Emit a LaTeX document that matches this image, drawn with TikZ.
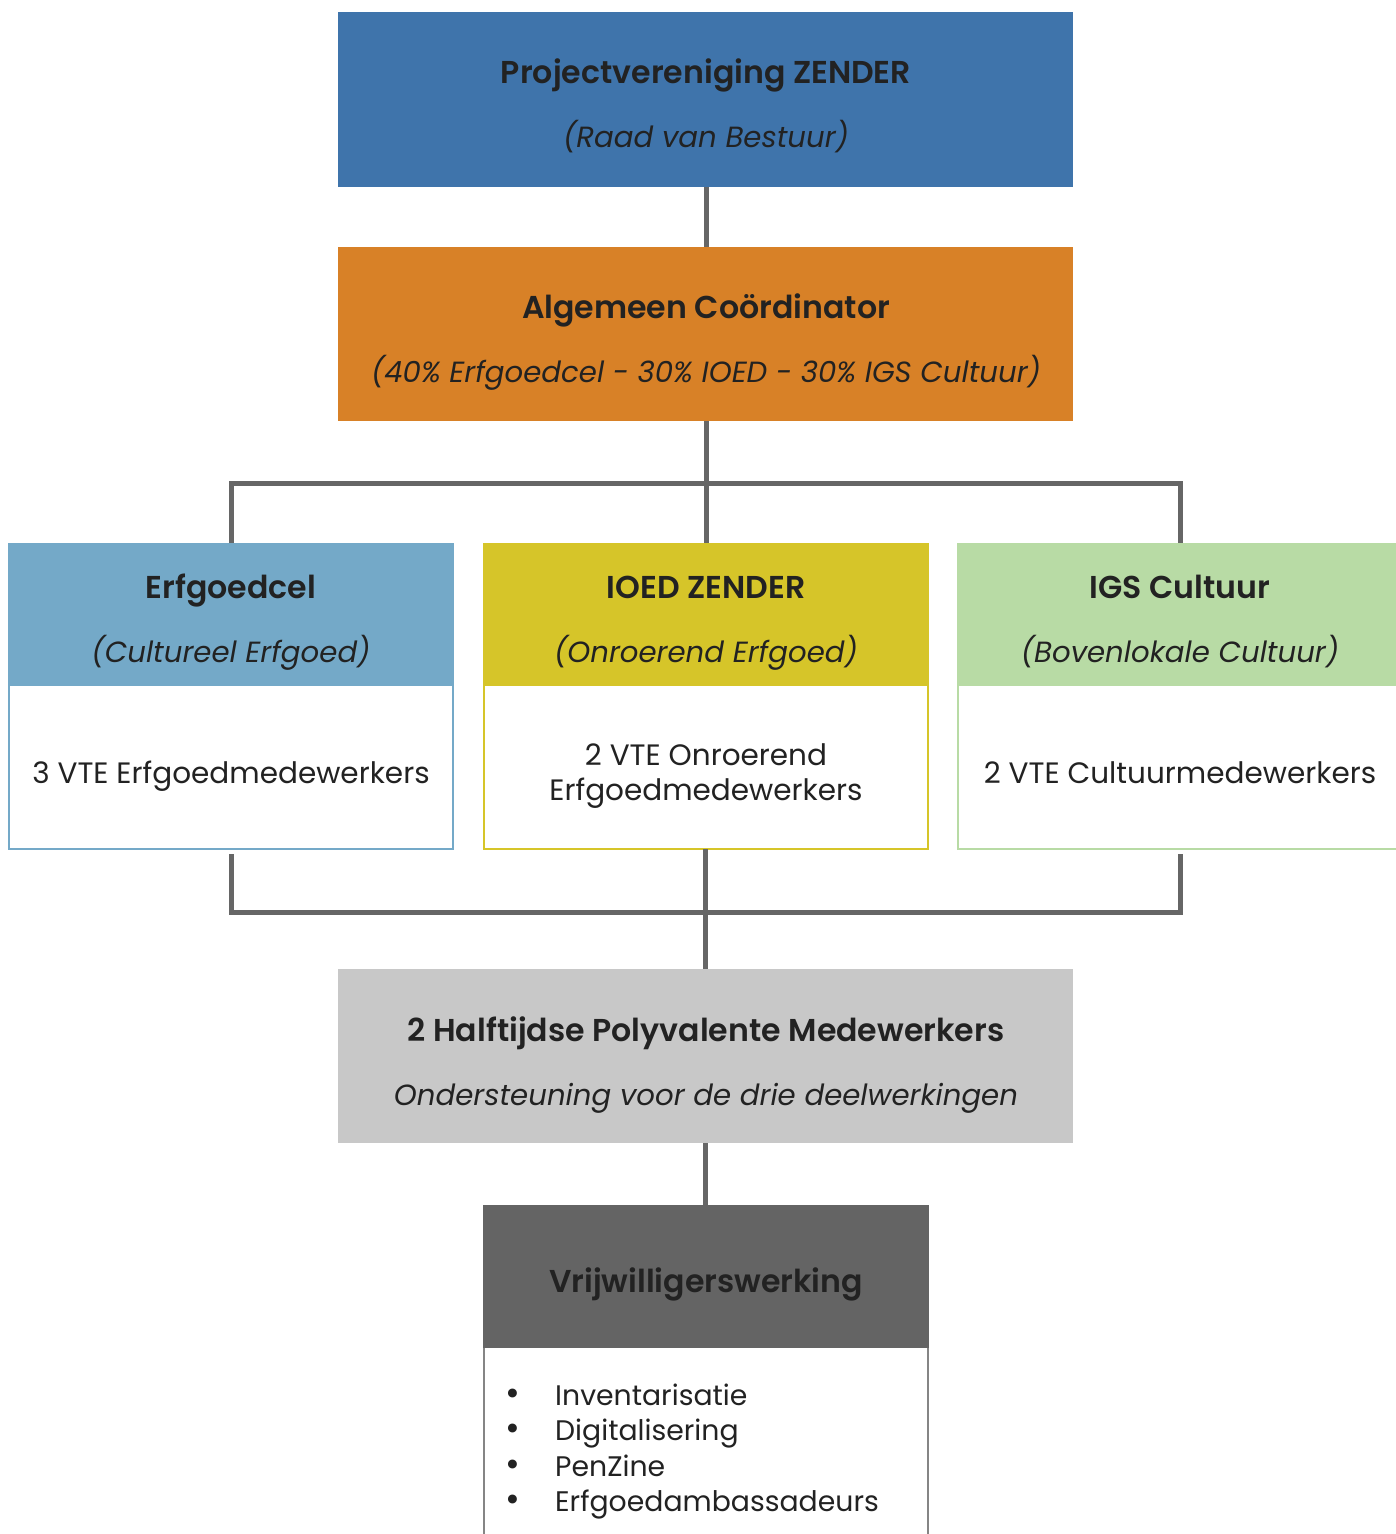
\documentclass[tikz,border=0pt]{standalone}
\usepackage{fontspec}
\setmainfont{Poppins}[BoldFont={Poppins SemiBold}]
\definecolor{topblue}{HTML}{3F74AB}
\definecolor{orangec}{HTML}{D88127}
\definecolor{lblue}{HTML}{74A9C8}
\definecolor{yellowc}{HTML}{D6C529}
\definecolor{greenc}{HTML}{B8DBA5}
\definecolor{greyc}{HTML}{C8C8C8}
\definecolor{darkc}{HTML}{646464}
\definecolor{linec}{HTML}{666666}
\definecolor{txt}{HTML}{222222}
\begin{document}
\begin{tikzpicture}[x=1pt,y=-1pt,
  box/.style={draw=none,anchor=north west,inner sep=0pt,outer sep=0pt},
  outline/.style={anchor=north west,inner sep=0pt,outer sep=0pt,fill=white,line width=2.5pt},
  conn/.style={draw=linec,line width=5pt},
  ttl/.style={font=\fontsize{31.6}{36}\selectfont\bfseries,text=txt,inner sep=0pt,anchor=base},
  sub/.style={font=\fontsize{29.2}{34}\selectfont\itshape,text=txt,inner sep=0pt,anchor=base},
  body/.style={font=\fontsize{29.5}{35.5}\selectfont,text=txt,inner sep=0pt,align=center,anchor=base},
  lst/.style={font=\fontsize{28.3}{34}\selectfont,text=txt,inner sep=0pt,anchor=base west},
  bul/.style={font=\fontsize{36}{34}\selectfont,text=txt,inner sep=0pt,anchor=base}]
\useasboundingbox (0,0) rectangle (1395,1534);
\fill[white] (0,0) rectangle (1395,1534);
\coordinate (j1) at (706,483);
\coordinate (j2) at (705,912);
% top
\node[box,fill=topblue,minimum width=735pt,minimum height=175pt] (top) at (338,12) {};
\node[ttl] (topt) at (706,83) {Projectvereniging ZENDER};
\node[sub] (tops) at (706,147) {(Raad van Bestuur)};
% coordinator
\node[box,fill=orangec,minimum width=735pt,minimum height=174pt] (coord) at (338,247) {};
\node[ttl] (coordt) at (706,318) {Algemeen Coördinator};
\node[sub] (coords) at (706,382) {(40\% Erfgoedcel - 30\% IOED - 30\% IGS Cultuur)};
% three columns
\node[outline,draw=lblue,minimum width=444pt,minimum height=305pt] (erf) at (9,544) {};
\node[box,fill=lblue,minimum width=446pt,minimum height=143pt] (erfh) at (8,543) {};
\node[ttl] (erft) at (231,598) {Erfgoedcel};
\node[sub] (erfs) at (231,662) {(Cultureel Erfgoed)};
\node[body] (erfb) at (231,783) {3 VTE Erfgoedmedewerkers};

\node[outline,draw=yellowc,minimum width=444pt,minimum height=305pt] (ioed) at (484,544) {};
\node[box,fill=yellowc,minimum width=446pt,minimum height=143pt] (ioedh) at (483,543) {};
\node[ttl] (ioedt) at (706,598) {IOED ZENDER};
\node[sub] (ioeds) at (706,662) {(Onroerend Erfgoed)};
\node[body] (ioedb1) at (706,765) {2 VTE Onroerend};
\node[body] (ioedb2) at (706,800) {Erfgoedmedewerkers};

\node[outline,draw=greenc,minimum width=444pt,minimum height=305pt] (igs) at (958,544) {};
\node[box,fill=greenc,minimum width=446pt,minimum height=143pt] (igsh) at (957,543) {};
\node[ttl] (igst) at (1180,598) {IGS Cultuur};
\node[sub] (igss) at (1180,662) {(Bovenlokale Cultuur)};
\node[body] (igsb) at (1180,783) {2 VTE Cultuurmedewerkers};
% grey
\node[box,fill=greyc,minimum width=735pt,minimum height=174pt] (poly) at (338,969) {};
\node[ttl] (polyt) at (706,1041) {2 Halftijdse Polyvalente Medewerkers};
\node[sub] (polys) at (706,1105) {Ondersteuning voor de drie deelwerkingen};
% volunteers
\node[outline,draw=linec!80,minimum width=444pt,minimum height=340pt] (vrij) at (484,1206) {};
\node[box,fill=darkc,minimum width=446pt,minimum height=143pt] (vrijh) at (483,1205) {};
\node[ttl] (vrijt) at (706,1292) {Vrijwilligerswerking};
\node[bul] (b1) at (513,1405) {•}; \node[lst] (l1) at (555,1405) {Inventarisatie};
\node[bul] (b2) at (513,1440) {•}; \node[lst] (l2) at (555,1440) {Digitalisering};
\node[bul] (b3) at (513,1476) {•}; \node[lst] (l3) at (555,1476) {PenZine};
\node[bul] (b4) at (513,1511) {•}; \node[lst] (l4) at (555,1511) {Erfgoedambassadeurs};
% connectors
\draw[conn] (top.south -| topt) -- (coord.north -| topt);
\draw[conn] (coord.south -| topt) -- (j1);
\draw[conn] (erfh.north) |- (j1) -| (igsh.north -| igst);
\draw[conn] (j1) -- (ioedh.north -| j1);
\draw[conn] ([yshift=-5pt]erf.south) |- (j2) -| ([yshift=-5pt]igs.south -| igst);
\draw[conn] (ioed.south -| j2) -- (poly.north -| j2);
\draw[conn] (poly.south -| j2) -- (vrijh.north -| j2);
\end{tikzpicture}
\end{document}
